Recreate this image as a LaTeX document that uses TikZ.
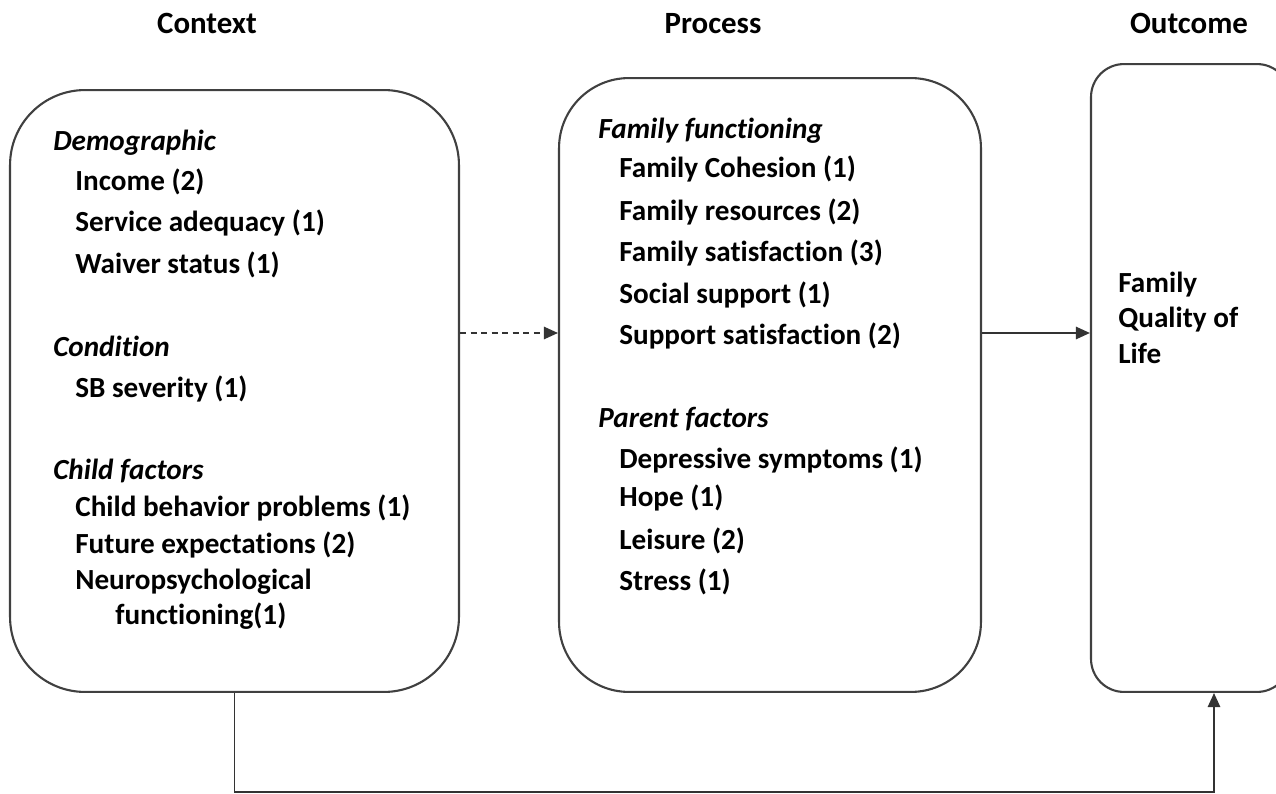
\documentclass[tikz,border=0pt]{standalone}
\usepackage{fontspec}
\setmainfont{Carlito}[Ligatures=CommonOff]
\usetikzlibrary{arrows.meta}
\tikzset {>={Triangle[length=8pt,width=7pt]}}
\tikzset{
  box/.style={draw=black!75,line width=1.2pt,rounded corners=#1,inner sep=0pt},
  head/.style={anchor=base,inner sep=0pt,font=\bfseries\fontsize{17.6}{20}\selectfont},
  group/.style={anchor=base west,inner sep=0pt,font=\bfseries\itshape\fontsize{16.6}{20}\selectfont},
  item/.style={anchor=base west,inner sep=0pt,font=\bfseries\fontsize{16.6}{20}\selectfont},
  link/.style={draw=black!80,line width=1.1pt}
}
\begin{document}
\begin{tikzpicture}[x=0.02cm,y=-0.02cm]
\useasboundingbox (0,0) rectangle (1276,794);
% headers
\node[head] (hctx) at (207,34) {Context};
\node[head] (hproc) at (713,34) {Process};
\node[head] (hout) at (1189,34) {Outcome};
% boxes
\node[box=1.5cm,minimum width=8.98cm,minimum height=12.04cm] (ctx) at (234.5,391) {};
\node[box=1.4cm,minimum width=8.44cm,minimum height=12.28cm] (proc) at (770,385) {};
\node[box=0.66cm,minimum width=3.98cm,minimum height=12.56cm] (out) at (1190.5,378) {};
% context
\node[group] (demo) at (53,151) {Demographic};
\node[item] (income) at (75,191) {Income (2)};
\node[item] (service) at (75,232) {Service adequacy (1)};
\node[item] (waiver) at (75,274) {Waiver status (1)};
\node[group] (cond) at (53,357) {Condition};
\node[item] (sb) at (75,398) {SB severity (1)};
\node[group] (child) at (53,479) {Child factors};
\node[item] (behav) at (75,516) {Child behavior problems (1)};
\node[item] (future) at (75,553) {Future expectations (2)};
\node[item] (neuro) at (75,589) {Neuropsychological};
\node[item] (neurof) at (115,624) {functioning(1)};
% process
\node[group] (famf) at (598,139) {Family functioning};
\node[item] (cohes) at (619,178) {Family Cohesion (1)};
\node[item] (resour) at (619,220) {Family resources (2)};
\node[item] (famsat) at (619,261) {Family satisfaction (3)};
\node[item] (social) at (619,303) {Social support (1)};
\node[item] (supsat) at (619,344) {Support satisfaction (2)};
\node[group] (parent) at (598,427) {Parent factors};
\node[item] (depr) at (619,468) {Depressive symptoms (1)};
\node[item] (hope) at (619,506) {Hope (1)};
\node[item] (leis) at (619,549) {Leisure (2)};
\node[item] (stress) at (619,590) {Stress (1)};
% outcome
\node[item] (fql1) at (1118,293) {Family};
\node[item] (fql2) at (1118,327) {Quality of};
\node[item] (fql3) at (1118,363) {Life};
% connectors
\draw[link,->,dash pattern=on 3.5pt off 2.5pt] (ctx.east |- 0,333) -- (proc.west |- 0,333);
\draw[link,->] (proc.east |- 0,333) -- (out.west |- 0,333);
\coordinate (loopin) at (1214,792);
\draw[link,->] (ctx.south) |- (loopin) -- (loopin |- out.south);
\end{tikzpicture}
\end{document}
